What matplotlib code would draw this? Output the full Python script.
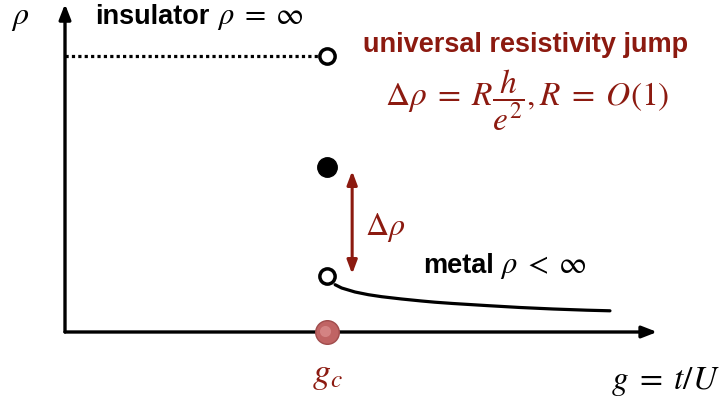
import matplotlib
matplotlib.use("Agg")
import matplotlib.pyplot as plt
import numpy as np

plt.rcParams['mathtext.fontset'] = 'stix'
plt.rcParams['font.family'] = ['Liberation Sans', 'DejaVu Sans']

# ---- data (schematic units) ----
g_c = 1.0
rho_insulator = 2.76          # dotted level standing for rho = infinity
rho_jump_top = 1.65           # filled dot at g_c
rho_metal_c = 0.56            # open circle, metal limit at g_c
metal_g = [1.031, 1.056, 1.107, 1.158, 1.209, 1.285, 1.361, 1.412, 1.481, 1.611, 1.737, 1.863, 1.992, 2.080]
metal_rho = [0.473, 0.440, 0.400, 0.373, 0.353, 0.330, 0.310, 0.298, 0.285, 0.264, 0.245, 0.230, 0.218, 0.212]
arrow_lo, arrow_hi = 0.58, 1.61
x_axis_end = 2.26
y_axis_end = 3.28

RED = '#8c1a10'
BOLD = 19.5
MATH = 22

fig = plt.figure(figsize=(7.22, 4.02), dpi=100)
ax = fig.add_axes([0, 0, 1, 1])
ax.set_xlim(-65 / 262, (722 - 65) / 262)
ax.set_ylim((333 - 402) / 100, 333 / 100)
ax.axis('off')

# axes arrows
ax.annotate('', xy=(x_axis_end, 0), xytext=(0, 0),
            arrowprops=dict(arrowstyle='-|>,head_length=0.9,head_width=0.35', lw=2.4, color='black',
                            shrinkA=0, shrinkB=0))
ax.annotate('', xy=(0, y_axis_end), xytext=(0, 0),
            arrowprops=dict(arrowstyle='-|>,head_length=0.9,head_width=0.35', lw=2.4, color='black',
                            shrinkA=0, shrinkB=0))

# insulator dotted line
ax.plot([0, g_c - 0.03], [rho_insulator, rho_insulator], color='black', lw=2.3,
        linestyle=(0, (1, 1)))

# metal curve
ax.plot(metal_g, metal_rho, color='black', lw=2.3, solid_capstyle='round',
        solid_joinstyle='round')

# markers
ax.plot([g_c], [rho_insulator], 'o', ms=11, mfc='white', mec='black', mew=2.5, zorder=5)
ax.plot([g_c], [rho_metal_c], 'o', ms=11, mfc='white', mec='black', mew=2.5, zorder=5)
ax.plot([g_c], [rho_jump_top], 'o', ms=14, mfc='black', mec='black', zorder=5)
ax.plot([g_c], [0], 'o', ms=17, mfc='#c06464', mec='#a04c4c', mew=1.0, zorder=5)
ax.plot([g_c - 0.006], [0.015], 'o', ms=8, mfc='#da8c8c', mec='none', alpha=0.8, zorder=6)

# red double arrow
ax.annotate('', xy=(g_c + 0.096, arrow_hi), xytext=(g_c + 0.096, arrow_lo),
            arrowprops=dict(arrowstyle='<|-|>,head_length=0.8,head_width=0.3', lw=2.2, color=RED,
                            shrinkA=0, shrinkB=0))


def bold_then_math(x, y, bold, math, gap_px=7, color='black'):
    t = ax.text(x, y, bold, fontsize=BOLD, fontweight='bold', color=color,
                ha='left', va='baseline')
    fig.canvas.draw()
    bb = t.get_window_extent()
    xd = ax.transData.inverted().transform((bb.x1 + gap_px, 0))[0]
    ax.text(xd, y, math, fontsize=MATH, color=color, ha='left', va='baseline')


# texts
ax.text(-0.17, 3.15, r'$\rho$', fontsize=23, ha='center', va='center')
bold_then_math(0.115, 3.09, 'insulator', r'$\rho\;=\;\infty$')
ax.text(1.137, 2.88, 'universal resistivity jump', fontsize=BOLD, fontweight='bold',
        color=RED, ha='left', va='center')
ax.text(1.765, 2.33, r'$\Delta\rho\;=\;R\dfrac{h}{e^2},R\;=\;O(1)$', fontsize=24,
        color=RED, ha='center', va='center')
ax.text(1.145, 1.05, r'$\Delta\rho$', fontsize=23, color=RED, ha='left', va='center')
bold_then_math(1.365, 0.595, 'metal', r'$\rho\;<\;\infty$')
ax.text(g_c, -0.42, r'$g_c$', fontsize=26, color=RED, ha='center', va='center')
ax.text(2.5, -0.49, r'$g\;=\;t/U$', fontsize=24, ha='right', va='center')

fig.savefig('out.png', dpi=100)
